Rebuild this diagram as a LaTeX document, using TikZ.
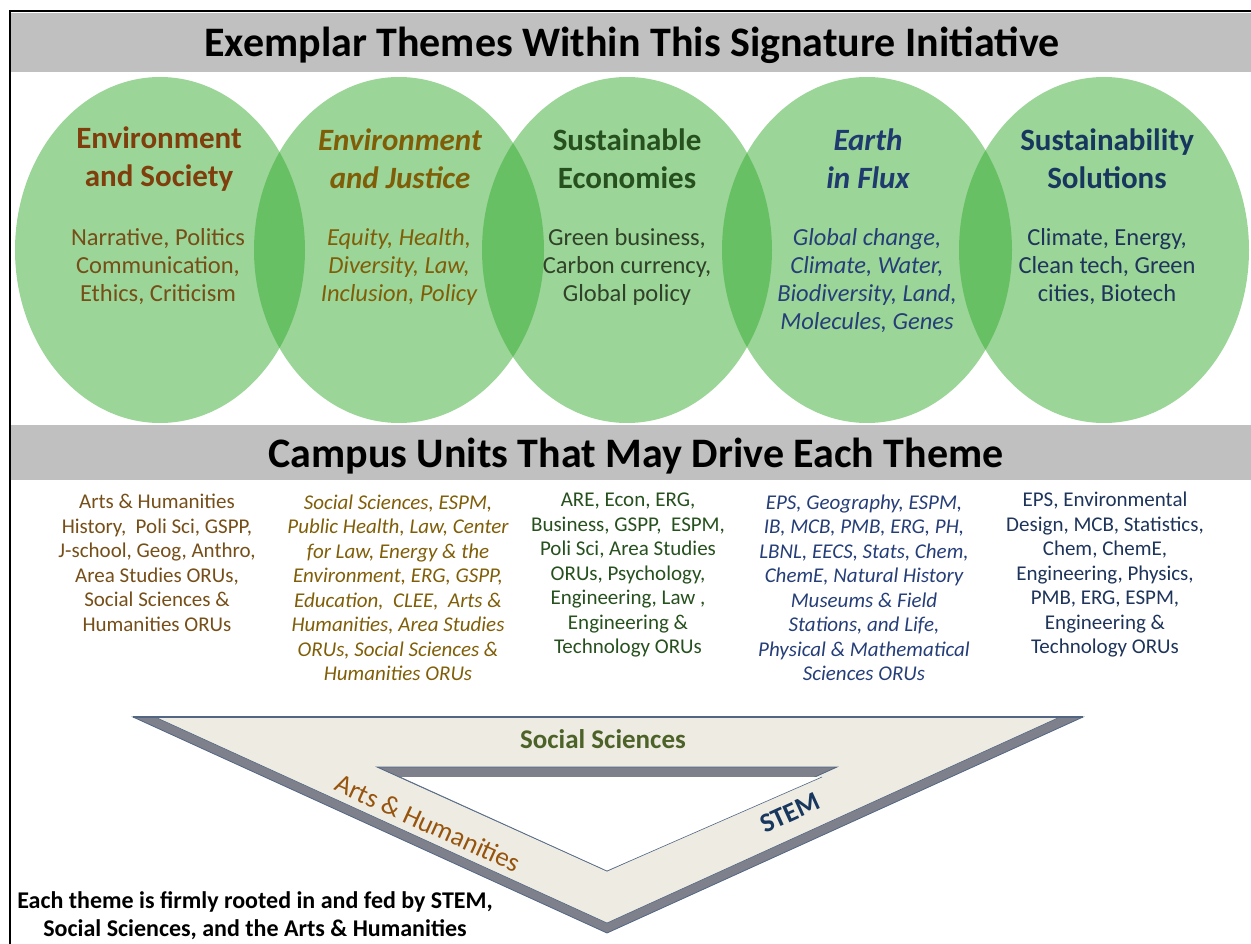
\documentclass[tikz,border=0pt]{standalone}
\usepackage{fontspec}
\setmainfont{Carlito}
\usetikzlibrary{shapes.geometric}

\definecolor{bargray}{RGB}{192,192,192}
\definecolor{themegreen}{RGB}{55,171,49}
\definecolor{socbrown}{RGB}{127,62,12}
\definecolor{socsub}{RGB}{118,78,24}
\definecolor{justbrown}{RGB}{128,94,8}
\definecolor{econgreen}{RGB}{38,80,30}
\definecolor{econsub}{RGB}{48,66,40}
\definecolor{fluxblue}{RGB}{31,58,110}
\definecolor{fluxsub}{RGB}{38,62,120}
\definecolor{solnavy}{RGB}{23,55,94}
\definecolor{solsub}{RGB}{30,52,90}
\definecolor{wedgegray}{RGB}{126,129,140}
\definecolor{wedgeface}{RGB}{238,236,226}
\definecolor{wedgeline}{RGB}{82,102,132}
\definecolor{socsci}{RGB}{76,98,40}
\definecolor{artsbrown}{RGB}{150,84,14}

\tikzset{
  theme/.style={ellipse, fill=themegreen, fill opacity=0.5, minimum width=290pt, minimum height=346pt, inner sep=0pt},
  bar/.style={fill=bargray},
  bartitle/.style={font=\fontsize{42}{46}\selectfont\bfseries},
  themetitle/.style={align=center, font=\fontsize{31}{38}\selectfont\bfseries},
  themetext/.style={align=center, font=\fontsize{24.5}{28}\selectfont},
  unitlist/.style={align=center, font=\fontsize{21}{24.5}\selectfont},
  wedgelabel/.style={inner sep=0pt, font=\fontsize{27}{30}\selectfont}
}

\begin{document}
\begin{tikzpicture}[x=1pt,y=-1pt]
\useasboundingbox (0,0) rectangle (1251,944);

% top banner
\fill[bar] (11,13) rectangle (1251,72);
\node[bartitle] (themesbanner) at (632,45) {Exemplar Themes Within This Signature Initiative};

% the five themes
\node[theme] (envsoc) at (160,250) {};
\node[theme] (envjust) at (399,250) {};
\node[theme] (suseco) at (627,250) {};
\node[theme] (flux) at (867,250) {};
\node[theme] (solutions) at (1104,250) {};

\node[themetitle, text=socbrown] (envsoctitle) at (159,159) {Environment\\and Society};
\node[themetext, text=socsub] (envsoctext) at (158,267) {Narrative, Politics\\Communication,\\Ethics, Criticism};
\node[themetitle, text=justbrown, font=\fontsize{31}{38}\selectfont\bfseries\itshape] (envjusttitle) at (400,159) {Environment\\and Justice};
\node[themetext, text=justbrown, font=\fontsize{24.5}{28}\selectfont\itshape] (envjusttext) at (399,267) {Equity, Health,\\Diversity, Law,\\Inclusion, Policy};
\node[themetitle, text=econgreen] (susecotitle) at (627,159) {Sustainable\\Economies};
\node[themetext, text=econsub] (susecotext) at (627,267) {Green business,\\Carbon currency,\\Global policy};
\node[themetitle, text=fluxblue, font=\fontsize{31}{38}\selectfont\bfseries\itshape] (fluxtitle) at (868,159) {Earth\\in Flux};
\node[themetext, text=fluxsub, font=\fontsize{24.5}{28}\selectfont\itshape] (fluxtext) at (867,281) {Global change,\\Climate, Water,\\Biodiversity, Land,\\Molecules, Genes};
\node[themetitle, text=solnavy] (solutionstitle) at (1107,159) {Sustainability\\Solutions};
\node[themetext, text=solsub] (solutionstext) at (1107,267) {Climate, Energy,\\Clean tech, Green\\cities, Biotech};

% second banner
\fill[bar] (11,425) rectangle (1251,480);
\node[bartitle] (unitsbanner) at (636,456) {Campus Units That May Drive Each Theme};

% frame
\draw[line width=2pt] (10,944) -- (10,11) -- (1251,11);

% campus units
\node[unitlist, text=socsub] (envsocunits) at (157,563) {Arts \& Humanities\\History,~~Poli Sci, GSPP,\\J-school, Geog, Anthro,\\Area Studies ORUs,\\Social Sciences \&\\Humanities ORUs};
\node[unitlist, text=justbrown, font=\fontsize{21}{24.5}\selectfont\itshape] (envjustunits) at (398,588) {Social Sciences, ESPM,\\Public Health, Law, Center\\for Law, Energy \& the\\Environment, ERG, GSPP,\\Education,~~CLEE,~~Arts \&\\Humanities, Area Studies\\ORUs, Social Sciences \&\\Humanities ORUs};
\node[unitlist, text=econgreen] (susecounits) at (628,575) {ARE, Econ, ERG,\\Business, GSPP,~~ESPM,\\Poli Sci, Area Studies\\ORUs, Psychology,\\Engineering, Law ,\\Engineering \&\\Technology ORUs};
\node[unitlist, text=fluxsub, font=\fontsize{21}{24.5}\selectfont\itshape] (fluxunits) at (864,588) {EPS, Geography, ESPM,\\IB, MCB, PMB, ERG, PH,\\LBNL, EECS, Stats, Chem,\\ChemE, Natural History\\Museums \& Field\\Stations, and Life,\\Physical \& Mathematical\\Sciences ORUs};
\node[unitlist, text=solsub] (solutionsunits) at (1105,575) {EPS, Environmental\\Design, MCB, Statistics,\\Chem, ChemE,\\Engineering, Physics,\\PMB, ERG, ESPM,\\Engineering \&\\Technology ORUs};

% the three roots
\filldraw[fill=wedgegray, draw=wedgeline, line width=0.8pt] (133,717) -- (1083,717) -- (607,933) -- cycle;
\filldraw[fill=wedgeface, draw=wedgeline, line width=0.6pt] (155,717) -- (1060,717) -- (607,923) -- cycle;
\draw[wedgeline, line width=1.8pt] (133,717) -- (1083,717);
\filldraw[fill=wedgegray, draw=wedgeline, line width=0.8pt] (377,767) -- (837,767) -- (607,871) -- cycle;
\fill[white] (400,777) -- (822,777) -- (607,871) -- cycle;
\draw[wedgeline, line width=0.6pt] (400,777) -- (607,871) -- (822,777);

\node[wedgelabel, text=socsci, font=\fontsize{27}{30}\selectfont\bfseries] (socsci) at (603,739) {Social Sciences};
\node[wedgelabel, text=artsbrown, rotate=-24.5] (arts) at (428,823) {Arts \& Humanities};
\node[wedgelabel, text=solnavy, font=\fontsize{27}{30}\selectfont\bfseries, rotate=24.5] (stem) at (790,813) {STEM};

\node[align=center, font=\fontsize{24}{28}\selectfont\bfseries] (rootnote) at (255,916) {Each theme is firmly rooted in and fed by STEM,\\Social Sciences, and the Arts \& Humanities};
\end{tikzpicture}
\end{document}
